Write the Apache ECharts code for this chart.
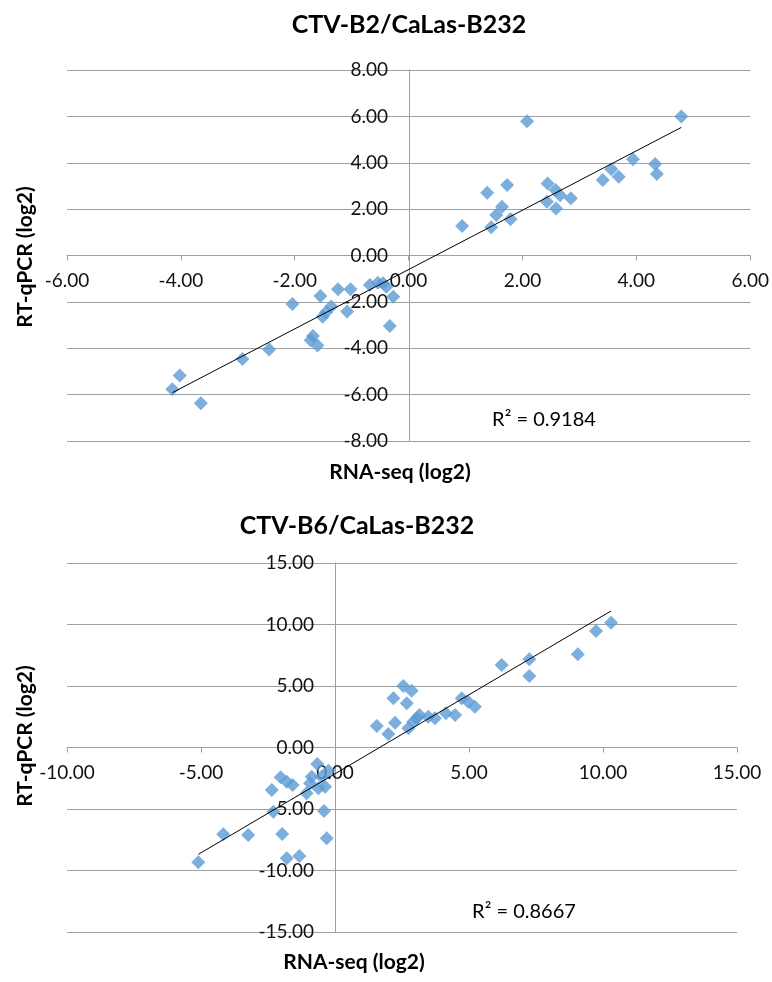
<!DOCTYPE html>
<html><head><meta charset="utf-8">
<script src="https://cdn.jsdelivr.net/npm/echarts@6/dist/echarts.min.js"></script>
<style>html,body{margin:0;padding:0;background:#fff}#c{width:772px;height:982px}</style>
</head><body><div id="c"></div>
<script>
// ---- text ----
const chartTitles = ['CTV-B2/CaLas-B232', 'CTV-B6/CaLas-B232'];
const xAxisTitle = 'RNA-seq (log2)';
const yAxisTitle = 'RT-qPCR (log2)';
const r2Labels = ['R\u00B2 = 0.9184', 'R\u00B2 = 0.8667'];

// ---- axis ranges [min, max, interval] ----
const b2XRange = [-6, 6, 2];
const b2YRange = [-8, 8, 2];
const b6XRange = [-10, 15, 5];
const b6YRange = [-15, 15, 5];

// ---- CTV-B2 / CaLas-B232 ----
const b2RnaSeq = [-4.15, -4.02, -3.65, -2.92, -2.45, -2.04, -1.55, -1.68, -1.72, -1.60,
  -1.51, -1.45, -1.36, -1.24, -1.02, -1.08, -0.68, -0.54, -0.45, -0.39, -0.27, -0.33,
  0.94, 1.45, 1.54, 1.64, 1.79, 1.38, 1.73, 2.08, 2.44, 2.58, 2.85, 2.43, 2.59, 2.66,
  3.41, 3.56, 3.69, 3.94, 4.33, 4.36, 4.79];
const b2Qpcr = [-5.77, -5.17, -6.37, -4.46, -4.05, -2.09, -1.75, -3.47, -3.65, -3.88,
  -2.64, -2.45, -2.20, -1.46, -1.46, -2.42, -1.27, -1.17, -1.20, -1.35, -1.78, -3.04,
  1.27, 1.22, 1.75, 2.10, 1.56, 2.71, 3.04, 5.79, 3.11, 2.82, 2.47, 2.32, 2.03, 2.60,
  3.26, 3.72, 3.40, 4.15, 3.95, 3.51, 5.99];

// ---- CTV-B6 / CaLas-B232 ----
const b6RnaSeq = [-0.66, -0.25, -0.50, -0.87, -0.93, -0.37, -0.62, -1.06, -2.03, -1.80,
  -1.58, -2.36, -2.30, -0.41, -3.24, -1.97, -0.31, -1.80, -1.33, -5.10, -4.17,
  2.55, 2.86, 2.18, 2.68, 1.56, 1.99, 2.24, 2.74, 2.92, 3.15, 3.05, 3.48, 3.73, 4.14,
  4.48, 4.73, 4.97, 5.22, 6.22, 7.25, 7.25, 9.06, 9.74, 10.30];
const b6Qpcr = [-1.34, -1.89, -2.37, -2.37, -2.91, -3.19, -3.32, -3.72, -2.42, -2.78,
  -3.05, -3.46, -5.22, -5.16, -7.11, -7.03, -7.38, -9.01, -8.82, -9.33, -7.06,
  5.00, 4.62, 4.00, 3.59, 1.75, 1.10, 2.02, 1.56, 2.10, 2.64, 2.37, 2.50, 2.37, 2.78,
  2.64, 4.00, 3.72, 3.32, 6.71, 7.17, 5.81, 7.58, 9.47, 10.15];

const FONT = 'Lato';
const GRID_COLOR = '#a0a0a0';
const MARK_COLOR = '#5b9bd5';
const grids = [
  { left: 67, top: 70, width: 684, height: 371 },
  { left: 67, top: 563, width: 670, height: 369 }
];

function pairs(xs, ys) { return xs.map((x, i) => [x, ys[i]]); }
function trend(xs, ys) {
  const n = xs.length;
  const mx = xs.reduce((a, b) => a + b, 0) / n;
  const my = ys.reduce((a, b) => a + b, 0) / n;
  let sxy = 0, sxx = 0;
  for (let i = 0; i < n; i++) { sxy += (xs[i] - mx) * (ys[i] - my); sxx += (xs[i] - mx) ** 2; }
  const b = sxy / sxx, a = my - b * mx;
  const lo = Math.min(...xs), hi = Math.max(...xs);
  return [[lo, a + b * lo], [hi, a + b * hi]];
}
// the axis crosses the other axis at its zero: shift it in from the grid edge
function zeroShift(r, len) { return -((0 - r[0]) / (r[1] - r[0])) * len; }

function xAxisCfg(idx, r, yr) {
  return {
    type: 'value', gridIndex: idx, min: r[0], max: r[1], interval: r[2],
    position: 'bottom', offset: zeroShift(yr, grids[idx].height),
    axisLine: { show: true, onZero: false, lineStyle: { color: GRID_COLOR, width: 1 } },
    axisTick: { show: true, inside: false, length: 5, lineStyle: { color: GRID_COLOR } },
    axisLabel: { formatter: v => v.toFixed(2), fontFamily: FONT, fontSize: 19, color: '#111', margin: 16 },
    splitLine: { show: false }
  };
}
function yAxisCfg(idx, r, xr) {
  return {
    type: 'value', gridIndex: idx, min: r[0], max: r[1], interval: r[2],
    position: 'left', offset: zeroShift(xr, grids[idx].width),
    axisLine: { show: true, onZero: false, lineStyle: { color: GRID_COLOR, width: 1 } },
    axisTick: { show: true, inside: false, length: 5, lineStyle: { color: GRID_COLOR } },
    axisLabel: { formatter: v => v.toFixed(2), fontFamily: FONT, fontSize: 19, color: '#111', margin: 21 },
    splitLine: { show: true, lineStyle: { color: GRID_COLOR, width: 1 } }
  };
}
function scatter(idx, xs, ys) {
  return { type: 'scatter', xAxisIndex: idx, yAxisIndex: idx, data: pairs(xs, ys),
    symbol: 'diamond', symbolSize: 14, itemStyle: { color: MARK_COLOR }, z: 2, silent: true };
}
function line(idx, xs, ys) {
  return { type: 'line', xAxisIndex: idx, yAxisIndex: idx, data: trend(xs, ys),
    symbol: 'none', lineStyle: { color: '#000', width: 1 }, z: 3, silent: true };
}
function txt(text, x, y, size, bold, rot) {
  return { type: 'text', x: x, y: y, rotation: rot || 0, silent: true,
    style: { text: text, x: 0, y: 0, align: 'center', verticalAlign: 'middle',
      fontFamily: FONT, fontSize: size, fontWeight: bold ? 'bold' : 'normal', fill: '#000' } };
}

const chart = echarts.init(document.getElementById('c'));
chart.setOption({
  animation: false,
  backgroundColor: '#fff',
  grid: grids,
  xAxis: [xAxisCfg(0, b2XRange, b2YRange), xAxisCfg(1, b6XRange, b6YRange)],
  yAxis: [yAxisCfg(0, b2YRange, b2XRange), yAxisCfg(1, b6YRange, b6XRange)],
  series: [
    scatter(0, b2RnaSeq, b2Qpcr), line(0, b2RnaSeq, b2Qpcr),
    scatter(1, b6RnaSeq, b6Qpcr), line(1, b6RnaSeq, b6Qpcr)
  ],
  graphic: [
    txt(chartTitles[0], 409, 25, 25, true),
    txt(chartTitles[1], 357, 526, 25, true),
    txt(xAxisTitle, 400, 472, 21, true),
    txt(xAxisTitle, 354, 962, 21, true),
    txt(yAxisTitle, 25, 257, 21, true, Math.PI / 2),
    txt(yAxisTitle, 25, 736, 21, true, Math.PI / 2),
    txt(r2Labels[0], 544, 420, 20, false),
    txt(r2Labels[1], 524, 912, 20, false)
  ]
});
</script></body></html>
